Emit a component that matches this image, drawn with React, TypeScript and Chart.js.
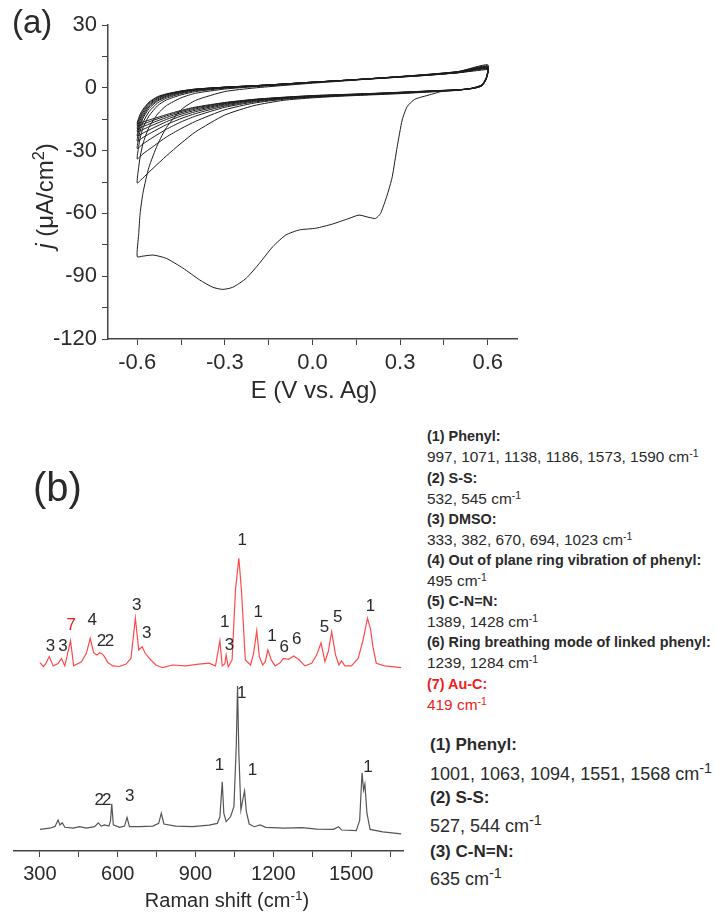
import React, { useEffect, useRef } from 'react';
import { Chart, registerables } from 'chart.js';

Chart.register(...registerables);

const FONT = '"Liberation Sans", Arial, Helvetica, sans-serif';

// ---------------- Panel (a): cyclic voltammogram ----------------
const CV_X_MAJOR = [-0.6, -0.3, 0, 0.3, 0.6];
const CV_X_MINOR = [-0.45, -0.15, 0.15, 0.45];
const CV_Y_MAJOR = [-120, -90, -60, -30, 0, 30];
const CV_Y_MINOR = [-105, -75, -45, -15, 15];

// first (cathodic) scan starting at 0.44 V
const FIRST_SCAN_E = [0.44, 0.4, 0.35, 0.324, 0.307, 0.29, 0.273, 0.261, 0.25, 0.233, 0.216, 0.193, 0.159, 0.125, 0.068, 0.011, -0.045, -0.091, -0.136, -0.182, -0.227, -0.273, -0.307, -0.341, -0.386, -0.443, -0.5, -0.545, -0.58, -0.6];
const FIRST_SCAN_J = [-1.8, -3.4, -5.5, -9, -15.4, -28.1, -42.5, -48.8, -53.6, -60, -62.4, -61.9, -60.8, -62.4, -65.1, -67.1, -67.9, -70.3, -75.9, -83.9, -91, -95.3, -96.3, -95.3, -91.8, -86.2, -81.5, -79.9, -80.4, -80.7];

// anodic sweeps (-0.6 -> 0.6), cycles 1..10
const ANODIC_E = [-0.595, -0.59, -0.58, -0.56, -0.53, -0.5, -0.45, -0.4, -0.3, -0.2, -0.1, 0.0, 0.1, 0.2, 0.3, 0.4, 0.5, 0.6];
const ANODIC_J = [
  [-70, -60, -50, -38, -27, -19, -10.5, -6, -1.8, -0.1, 1.1, 2.2, 3.2, 4.3, 5.3, 6.4, 7.8, 11],
  [-38, -33, -26.5, -19, -12.5, -8.5, -4.8, -2.6, -0.6, 0.5, 1.4, 2.5, 3.4, 4.4, 5.4, 6.5, 7.8, 10.5],
  [-28, -24, -19, -13.5, -8.5, -5.8, -3.4, -1.8, -0.2, 0.7, 1.6, 2.6, 3.5, 4.4, 5.4, 6.4, 7.7, 10.2],
  [-24, -20.5, -16.5, -11.5, -7.2, -5, -2.8, -1.4, 0, 0.8, 1.7, 2.6, 3.5, 4.4, 5.3, 6.3, 7.6, 10],
  [-21, -18.5, -14.5, -10, -6.3, -4.4, -2.4, -1.1, 0.1, 0.9, 1.7, 2.6, 3.5, 4.4, 5.3, 6.3, 7.5, 9.8],
  [-19.5, -17, -13.5, -9.2, -5.8, -4, -2.1, -0.9, 0.2, 0.9, 1.8, 2.7, 3.5, 4.4, 5.3, 6.2, 7.4, 9.6],
  [-18, -15.5, -12.5, -8.5, -5.3, -3.6, -1.9, -0.8, 0.3, 1.0, 1.8, 2.7, 3.5, 4.3, 5.2, 6.2, 7.3, 9.4],
  [-16.6, -14.5, -11.6, -7.9, -4.9, -3.3, -1.7, -0.7, 0.3, 1.0, 1.8, 2.7, 3.5, 4.3, 5.2, 6.1, 7.3, 9.2],
  [-15.4, -13.4, -10.8, -7.3, -4.5, -3.1, -1.6, -0.6, 0.3, 1.0, 1.8, 2.7, 3.4, 4.3, 5.1, 6.1, 7.2, 9.0],
  [-14.5, -12.6, -10.2, -6.9, -4.2, -2.9, -1.5, -0.6, 0.3, 1.0, 1.8, 2.7, 3.4, 4.2, 5.1, 6.0, 7.2, 8.8],
];

// cathodic sweeps (0.6 -> -0.6), cycles 2..10
const CATHODIC_E = [0.595, 0.58, 0.55, 0.5, 0.4, 0.3, 0.2, 0.1, 0.0, -0.1, -0.2, -0.3, -0.4, -0.45, -0.5, -0.55, -0.58, -0.6];
const CATHODIC_J = [
  [5, 1.5, 0, -1.2, -2, -2.8, -3.4, -4, -4.8, -6, -8.5, -13, -21, -26.5, -32.5, -39, -43, -45.5],
  [5, 1.4, -0.1, -1.1, -1.9, -2.6, -3.2, -3.8, -4.5, -5.5, -7.3, -10.5, -16, -19.5, -23.5, -28.5, -31.5, -34],
  [4.8, 1.3, -0.1, -1.1, -1.8, -2.5, -3.1, -3.7, -4.3, -5.2, -6.8, -9.3, -13.5, -16.3, -19.8, -24, -26.8, -29],
  [4.7, 1.2, -0.2, -1.0, -1.7, -2.4, -3.0, -3.6, -4.2, -5.1, -6.4, -8.7, -12.3, -14.7, -17.6, -21.3, -23.7, -25.5],
  [4.6, 1.2, -0.2, -1.0, -1.7, -2.3, -2.9, -3.5, -4.1, -4.9, -6.1, -8.2, -11.4, -13.5, -16.2, -19.5, -21.6, -23],
  [4.5, 1.1, -0.2, -1.0, -1.6, -2.3, -2.9, -3.4, -4.0, -4.8, -5.9, -7.8, -10.7, -12.6, -15.1, -18, -19.9, -21],
  [4.4, 1.0, -0.3, -0.9, -1.6, -2.2, -2.8, -3.4, -3.9, -4.7, -5.7, -7.5, -10.1, -11.9, -14.2, -16.8, -18.5, -19.5],
  [4.3, 1.0, -0.3, -0.9, -1.5, -2.2, -2.8, -3.3, -3.8, -4.6, -5.6, -7.2, -9.6, -11.3, -13.4, -15.8, -17.3, -18],
  [4.2, 0.9, -0.3, -0.9, -1.5, -2.1, -2.7, -3.2, -3.7, -4.5, -5.5, -7.0, -9.2, -10.8, -12.8, -15, -16.3, -17],
];

// ---------------- Panel (b): Raman spectra ----------------
const RAMAN_X_MAJOR = [300, 600, 900, 1200, 1500];
const RAMAN_X_MINOR = [450, 750, 1050, 1350, 1650];

const RED_X = [300, 313, 322, 336, 351, 370, 383, 396, 418, 430, 460, 479, 494, 507, 520, 530, 540, 549, 562, 581, 607, 632, 651, 668, 681, 694, 706, 722, 747, 773, 811, 862, 913, 952, 977, 994, 1003, 1013, 1018, 1026, 1041, 1054, 1067, 1077, 1092, 1112, 1124, 1136, 1146, 1159, 1169, 1179, 1192, 1207, 1227, 1239, 1259, 1278, 1297, 1322, 1348, 1367, 1384, 1399, 1412, 1425, 1440, 1453, 1463, 1476, 1501, 1527, 1546, 1563, 1575, 1584, 1597, 1629, 1693];
const RED_Y = [62.8, 61.5, 62.4, 64.8, 61.7, 62.5, 64.2, 61.7, 70.1, 61.7, 63.1, 65.9, 70.9, 66.1, 65.3, 66.1, 65.7, 64.8, 62.8, 61.7, 61.5, 62.3, 64.2, 77.6, 67.0, 68.1, 65.9, 64.2, 62, 61.1, 62, 61.7, 62.3, 62.6, 61.7, 70.1, 61.7, 62.4, 65.3, 61.4, 63.7, 87, 97.6, 87, 63.7, 62, 65.9, 73.4, 64.8, 62, 63.1, 67, 63.7, 61.7, 62.8, 64.2, 63.9, 65, 63.9, 61.7, 62.6, 65.3, 69.4, 63.1, 66.5, 73.1, 65.3, 62, 63.4, 61.7, 61.7, 64.2, 70.3, 77.6, 73.9, 68.1, 62.6, 61.7, 61.1];

const BLACK_X = [300, 338, 358, 370, 377, 386, 396, 428, 453, 479, 511, 525, 536, 549, 566, 572, 577, 583, 607, 626, 636, 645, 683, 735, 758, 768, 778, 824, 888, 952, 984, 994, 1003, 1009, 1018, 1035, 1048, 1057, 1062, 1067, 1075, 1082, 1089, 1096, 1107, 1126, 1149, 1171, 1241, 1311, 1368, 1432, 1451, 1463, 1520, 1533, 1542, 1548, 1553, 1561, 1573, 1622, 1693];
const BLACK_Y = [7.2, 7.6, 8.2, 10.3, 8.7, 9.4, 7.9, 7.6, 8.1, 7.6, 8.1, 9.4, 8.3, 8.7, 8.3, 10, 15.7, 8.7, 7.9, 8.3, 11.2, 8.1, 8.1, 8.3, 9.2, 12.6, 9, 8.3, 8.1, 8.6, 9.2, 11.4, 23.1, 12.6, 9.8, 11.4, 14.8, 34.8, 55, 32.6, 13.7, 17, 20, 13.1, 9, 8.1, 8.7, 7.9, 7.6, 7.8, 7.3, 7.2, 8.1, 7, 6.8, 10.3, 26.1, 20.3, 22.3, 12.6, 7.2, 6.4, 5.7];

// peak assignment labels
const RED_LABEL_X = [341, 389, 421, 502, 537, 568, 673, 712, 1013, 1031, 1080, 1142, 1195, 1242, 1290, 1397, 1448, 1575];
const RED_LABEL_Y = [68.3, 68.1, 75.3, 77, 70, 70, 82, 72.6, 76.1, 68.7, 103.7, 79.4, 71.7, 67.9, 70.6, 74.6, 77.9, 81.7];
const RED_LABEL_T = ['3', '3', '7', '4', '2', '2', '3', '3', '1', '3', '1', '1', '1', '6', '6', '5', '5', '1'];
const RED_LABEL_HIGHLIGHT = [false, false, true, false, false, false, false, false, false, false, false, false, false, false, false, false, false, false];

const BLACK_LABEL_X = [529, 558, 646, 992, 1078, 1120, 1565];
const BLACK_LABEL_Y = [17, 17, 18.2, 28.5, 52.7, 27, 27.9];
const BLACK_LABEL_T = ['2', '2', '3', '1', '1', '1', '1'];

function cvPoints() {
  const pts: { x: number; y: number }[] = [];
  FIRST_SCAN_E.forEach((e, i) => pts.push({ x: e, y: FIRST_SCAN_J[i] }));
  for (let c = 0; c < ANODIC_J.length; c++) {
    ANODIC_E.forEach((e, i) => pts.push({ x: e, y: ANODIC_J[c][i] }));
    if (c < CATHODIC_J.length) CATHODIC_E.forEach((e, i) => pts.push({ x: e, y: CATHODIC_J[c][i] }));
  }
  return pts;
}

const AXIS_COLOR = '#444';
const TEXT_COLOR = '#2a2a2a';

function CvChart() {
  const ref = useRef<HTMLCanvasElement>(null);
  useEffect(() => {
    if (!ref.current) return;
    const xTicks = [...CV_X_MAJOR, ...CV_X_MINOR].sort((a, b) => a - b);
    const yTicks = [...CV_Y_MAJOR, ...CV_Y_MINOR].sort((a, b) => a - b);
    const chart = new Chart(ref.current, {
      type: 'scatter',
      data: {
        datasets: [{
          data: cvPoints(),
          showLine: true,
          borderColor: '#1c1c1c',
          borderWidth: 1,
          pointRadius: 0,
          tension: 0.2,
          fill: false,
        }],
      },
      options: {
        animation: false,
        responsive: false,
        maintainAspectRatio: false,
        layout: { padding: { top: 25, right: 23, left: 0, bottom: 0 } },
        plugins: { legend: { display: false }, tooltip: { enabled: false } },
        scales: {
          x: {
            type: 'linear', min: -0.7, max: 0.7,
            afterFit: (s: any) => { s.height = 81; },
            afterBuildTicks: (s: any) => { s.ticks = xTicks.map((v) => ({ value: v })); },
            ticks: {
              autoSkip: false, maxRotation: 0, padding: 5, color: TEXT_COLOR,
              font: { family: FONT, size: 22 },
              callback: (v: any) => (CV_X_MAJOR.some((m) => Math.abs(m - v) < 1e-9) ? Number(v).toFixed(1) : ''),
            },
            grid: { drawOnChartArea: false, drawTicks: true, tickLength: 6, color: AXIS_COLOR },
            border: { color: AXIS_COLOR, width: 1.5 },
          },
          y: {
            type: 'linear', min: -120, max: 30,
            afterFit: (s: any) => { s.width = 108; },
            afterBuildTicks: (s: any) => { s.ticks = yTicks.map((v) => ({ value: v })); },
            ticks: {
              autoSkip: false, padding: 5, color: TEXT_COLOR,
              font: { family: FONT, size: 22 },
              callback: (v: any) => (CV_Y_MAJOR.includes(Number(v)) ? String(v) : ''),
            },
            grid: { drawOnChartArea: false, drawTicks: true, tickLength: 6, color: AXIS_COLOR },
            border: { color: AXIS_COLOR, width: 1.5 },
          },
        },
      },
    } as any);
    return () => chart.destroy();
  }, []);
  return <canvas ref={ref} width={540} height={420} style={{ position: 'absolute', left: 0, top: 0, width: 540, height: 420 }} />;
}

const peakLabels = {
  id: 'peakLabels',
  afterDatasetsDraw(chart: any) {
    const { ctx } = chart;
    const x = chart.scales.x;
    const y = chart.scales.y;
    ctx.save();
    ctx.font = `17px ${FONT}`;
    ctx.textAlign = 'center';
    ctx.textBaseline = 'middle';
    RED_LABEL_T.forEach((t, i) => {
      ctx.fillStyle = RED_LABEL_HIGHLIGHT[i] ? '#ee2020' : TEXT_COLOR;
      ctx.fillText(t, x.getPixelForValue(RED_LABEL_X[i]), y.getPixelForValue(RED_LABEL_Y[i]));
    });
    ctx.fillStyle = TEXT_COLOR;
    BLACK_LABEL_T.forEach((t, i) => {
      ctx.fillText(t, x.getPixelForValue(BLACK_LABEL_X[i]), y.getPixelForValue(BLACK_LABEL_Y[i]));
    });
    ctx.restore();
  },
};

function RamanChart() {
  const ref = useRef<HTMLCanvasElement>(null);
  useEffect(() => {
    if (!ref.current) return;
    const xTicks = [...RAMAN_X_MAJOR, ...RAMAN_X_MINOR].sort((a, b) => a - b);
    const chart = new Chart(ref.current, {
      type: 'scatter',
      data: {
        datasets: [
          {
            data: RED_X.map((v, i) => ({ x: v, y: RED_Y[i] })),
            showLine: true, borderColor: '#ff4a4a', borderWidth: 1.2, pointRadius: 0, tension: 0, fill: false,
          },
          {
            data: BLACK_X.map((v, i) => ({ x: v, y: BLACK_Y[i] })),
            showLine: true, borderColor: '#555555', borderWidth: 1.2, pointRadius: 0, tension: 0, fill: false,
          },
        ],
      },
      options: {
        animation: false,
        responsive: false,
        maintainAspectRatio: false,
        layout: { padding: { top: 21, right: 17, left: 14, bottom: 0 } },
        plugins: { legend: { display: false }, tooltip: { enabled: false } },
        scales: {
          x: {
            type: 'linear', min: 200, max: 1700,
            afterFit: (s: any) => { s.height = 62; },
            afterBuildTicks: (s: any) => { s.ticks = xTicks.map((v) => ({ value: v })); },
            ticks: {
              autoSkip: false, maxRotation: 0, padding: 5, color: TEXT_COLOR,
              font: { family: FONT, size: 20 },
              callback: (v: any) => (RAMAN_X_MAJOR.includes(Number(v)) ? String(v) : ''),
            },
            grid: { drawOnChartArea: false, drawTicks: true, tickLength: 6, color: AXIS_COLOR },
            border: { color: AXIS_COLOR, width: 1.5 },
          },
          y: { type: 'linear', min: 0, max: 110, display: false },
        },
      },
      plugins: [peakLabels],
    } as any);
    return () => chart.destroy();
  }, []);
  return <canvas ref={ref} width={420} height={413} style={{ position: 'absolute', left: 0, top: 500, width: 420, height: 413 }} />;
}

function Txt(props: { x: number; cy: number; size: number; bold?: boolean; color?: string; children: any }) {
  const { x, cy, size, bold, color, children } = props;
  return (
    <div style={{
      position: 'absolute', left: x, top: cy - size * 0.6, fontFamily: FONT, fontSize: size,
      lineHeight: `${size * 1.2}px`, fontWeight: bold ? 'bold' : 'normal', color: color || TEXT_COLOR, whiteSpace: 'nowrap',
    }}>{children}</div>
  );
}

function Sup(props: { children: any; scale?: number }) {
  return <sup style={{ fontSize: `${props.scale || 0.68}em`, lineHeight: 0, verticalAlign: '0.5em' }}>{props.children}</sup>;
}

function Centered(props: { cx: number; cy: number; size: number; rotate?: boolean; children: any }) {
  const { cx, cy, size, rotate, children } = props;
  return (
    <div style={{
      position: 'absolute', left: cx, top: cy, fontFamily: FONT, fontSize: size, lineHeight: `${size * 1.2}px`,
      color: TEXT_COLOR, whiteSpace: 'nowrap',
      transform: `translate(-50%, -50%)${rotate ? ' rotate(-90deg)' : ''}`,
    }}>{children}</div>
  );
}

export default function App() {
  const RED = '#ee2020';
  const b1 = 14.4;
  const r1 = 15.4;
  const step = 20.6;
  const y0 = 437;
  const b2 = 17;
  const r2 = 18;
  return (
    <div style={{ position: 'absolute', left: 0, top: 0, width: 718, height: 913, overflow: 'hidden', background: '#fff' }}>
      <CvChart />
      <RamanChart />

      <Txt x={12} cy={22} size={33}>(a)</Txt>
      <Centered cx={45} cy={196} size={24} rotate><i>j</i> (μA/cm<Sup>2</Sup>)</Centered>
      <Centered cx={314} cy={390} size={24}>E (V vs. Ag)</Centered>

      <Txt x={33} cy={487} size={40}>(b)</Txt>
      <Centered cx={227} cy={900} size={20}>Raman shift (cm<Sup>-1</Sup>)</Centered>

      <Txt x={427} cy={y0} size={b1} bold>(1) Phenyl:</Txt>
      <Txt x={427} cy={y0 + step} size={r1}>997, 1071, 1138, 1186, 1573, 1590 cm<Sup>-1</Sup></Txt>
      <Txt x={427} cy={y0 + step * 2} size={b1} bold>(2) S-S:</Txt>
      <Txt x={427} cy={y0 + step * 3} size={r1}>532, 545 cm<Sup>-1</Sup></Txt>
      <Txt x={427} cy={y0 + step * 4} size={b1} bold>(3) DMSO:</Txt>
      <Txt x={427} cy={y0 + step * 5} size={r1}>333, 382, 670, 694, 1023 cm<Sup>-1</Sup></Txt>
      <Txt x={427} cy={y0 + step * 6} size={b1} bold>(4) Out of plane ring vibration of phenyl:</Txt>
      <Txt x={427} cy={y0 + step * 7} size={r1}>495 cm<Sup>-1</Sup></Txt>
      <Txt x={427} cy={y0 + step * 8} size={b1} bold>(5) C-N=N:</Txt>
      <Txt x={427} cy={y0 + step * 9} size={r1}>1389, 1428 cm<Sup>-1</Sup></Txt>
      <Txt x={427} cy={y0 + step * 10} size={b1} bold>(6) Ring breathing mode of linked phenyl:</Txt>
      <Txt x={427} cy={y0 + step * 11} size={r1}>1239, 1284 cm<Sup>-1</Sup></Txt>
      <Txt x={427} cy={y0 + step * 12} size={b1} bold color={RED}>(7) Au-C:</Txt>
      <Txt x={427} cy={y0 + step * 13} size={r1} color={RED}>419 cm<Sup>-1</Sup></Txt>

      <Txt x={430} cy={745} size={b2} bold>(1) Phenyl:</Txt>
      <Txt x={430} cy={775} size={r2}>1001, 1063, 1094, 1551, 1568 cm<Sup scale={0.8}>-1</Sup></Txt>
      <Txt x={430} cy={798} size={b2} bold>(2) S-S:</Txt>
      <Txt x={430} cy={827} size={r2}>527, 544 cm<Sup scale={0.8}>-1</Sup></Txt>
      <Txt x={430} cy={852} size={b2} bold>(3) C-N=N:</Txt>
      <Txt x={430} cy={880} size={r2}>635 cm<Sup scale={0.8}>-1</Sup></Txt>
    </div>
  );
}
